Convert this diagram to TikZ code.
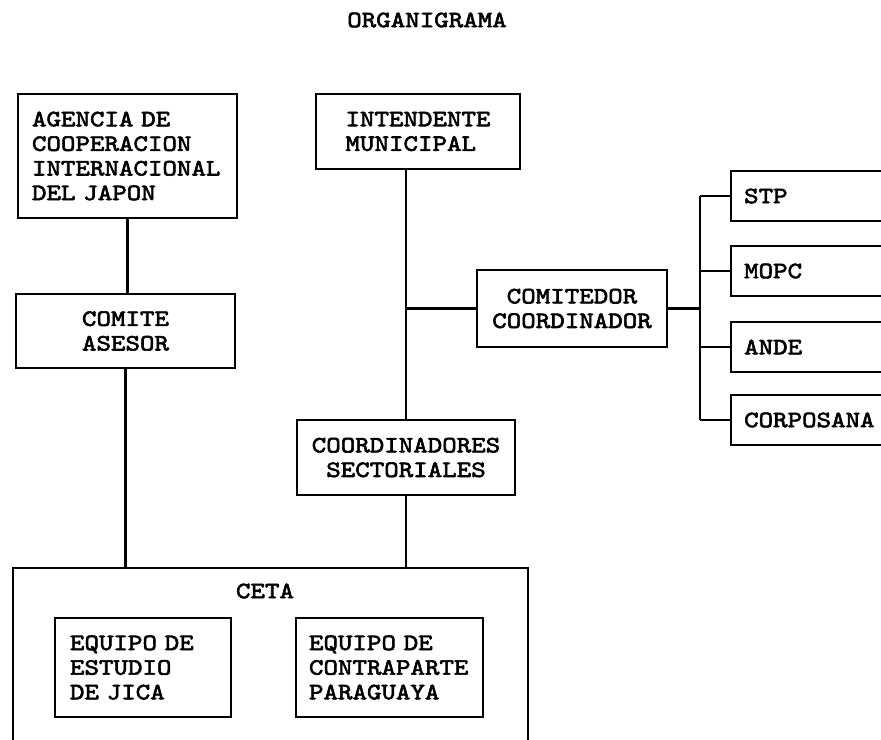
\documentclass[tikz,border=0pt]{standalone}
\usepackage{fontspec}
\newfontfamily\typew{lmmono10-regular.otf}[FakeBold=2.6,FakeStretch=1.18]
\newcommand{\orgfont}{\typew\fontsize{11.7}{12.3}\selectfont}
\tikzset{
	orgbox/.style={draw, line width=1.1pt, inner sep=0pt},
	leftbox/.style={orgbox, align=left},
	midbox/.style={orgbox, align=center},
}

\begin{document}
\begin{tikzpicture}[x=0.5pt, y=-0.5pt, font=\orgfont, line width=1.1pt]
	\useasboundingbox (0,0) rectangle (881,739);
	\clip (0,0) rectangle (881,739);
	\node (titulo) at (427,20) {ORGANIGRAMA};
	\node[leftbox, minimum width=109.5pt, minimum height=62pt, text width=95.5pt] (agencia) at (127.5,156) {AGENCIA DE\\COOPERACION\\INTERNACIONAL\\DEL JAPON};
	\node[leftbox, minimum width=102pt, minimum height=37.5pt] (intendente) at (418,131.5) {INTENDENTE\\MUNICIPAL};
	\node[midbox, minimum width=109.5pt, minimum height=37pt] (comite) at (125.5,331) {COMITE\\ASESOR};
	\node[midbox, minimum width=95pt, minimum height=38.5pt] (comitedor) at (572,308.5) {COMITEDOR\\COORDINADOR};
	\node[midbox, minimum width=109pt, minimum height=37.5pt] (coord) at (406,457.5) {COORDINADORES\\SECTORIALES};
	\foreach \n/\txt/\y in {stp/STP/196, mopc/MOPC/271, ande/ANDE/347, corposana/CORPOSANA/420}
		\node[leftbox, anchor=west, minimum width=85pt, minimum height=25pt, text width=72pt] (\n) at (730,\y) {\txt};
	\node[orgbox, minimum width=257.5pt, minimum height=96pt] (ceta) at (270.5,664) {};
	\node (cetalbl) at (265,591) {CETA};
	\node[leftbox, minimum width=88pt, minimum height=49.5pt, text width=73pt] (jica) at (143,667.5) {EQUIPO DE\\ESTUDIO\\DE JICA};
	\node[leftbox, minimum width=93.5pt, minimum height=49.5pt, text width=80.5pt] (contraparte) at (389.5,667.5) {EQUIPO DE\\CONTRAPARTE\\PARAGUAYA};
	\draw (agencia.south) -- (agencia.south |- comite.north);
	\draw (comite.south) -- (comite.south |- ceta.north);
	\draw (coord.north) -- (coord.north |- intendente.south);
	\draw (coord.south) -- (coord.south |- ceta.north);
	\draw (coord.north |- comitedor.west) -- (comitedor.west);
	\coordinate (bus) at (700,308.5);
	\draw (comitedor.east) -- (bus);
	\draw (bus |- stp.west) -- (bus |- corposana.west);
	\foreach \n in {stp,mopc,ande,corposana}
		\draw (\n.west) -- (bus |- \n.west);
\end{tikzpicture}
\end{document}
